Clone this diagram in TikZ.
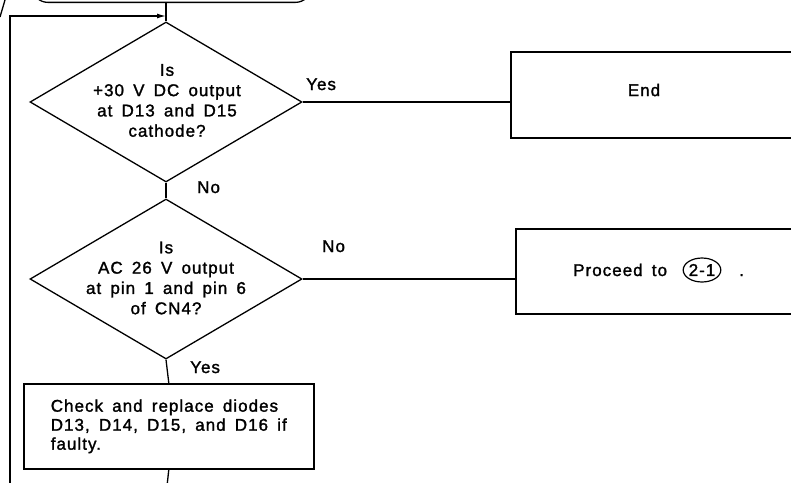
\documentclass[tikz,border=0pt]{standalone}
\usepackage{fontspec}
\setmainfont{Liberation Sans}[LetterSpace=6,FakeBold=1.5,WordSpace=1.6]
\usetikzlibrary{shapes.geometric,arrows.meta}
\begin{document}
\begin{tikzpicture}[x=1pt,y=-1pt,
  ln/.style={line width=1.3pt},
  dia/.style={diamond, draw, line width=1.3pt, minimum width=272pt, minimum height=160pt, inner sep=0pt},
  box/.style={rectangle, draw, line width=1.6pt, inner sep=0pt},
  txt/.style={font=\fontsize{17}{20.3}\selectfont, align=center, inner sep=0pt},
  lbl/.style={font=\fontsize{17}{18}\selectfont, inner sep=0pt, anchor=base west},
  term/.style={draw, rounded corners=15pt, line width=1.3pt, inner sep=0pt}
]
\useasboundingbox (0,0) rectangle (791,482);
\clip (0,0) rectangle (791,482);
% start terminator (cut off at top)
\node[term, minimum width=278pt, minimum height=60pt, anchor=south west] (start) at (32,3) {};
\draw[ln] (0,17) -- (5,0);
% decisions
\node[dia] (d1) at (166,102) {};
\node[txt] (d1t) at (167,100.5) {Is\\+30 V DC output\\at D13 and D15\\cathode?};
\node[dia] (d2) at (166,279) {};
\node[txt] (d2t) at (166,278) {Is\\AC 26 V output\\at pin 1 and pin 6\\of CN4?};
% boxes
\node[box, anchor=north west, minimum width=300pt, minimum height=86pt] (endb) at (510,51) {};
\node[txt] (endt) at (644,90) {End};
\node[box, anchor=north west, minimum width=300pt, minimum height=85pt] (procb) at (515,228) {};
\node[lbl] (proct) at (573,276) {Proceed to};
\node[ellipse, draw, line width=1.2pt, minimum width=33pt, minimum height=24pt, inner sep=0pt, font=\fontsize{17}{18}\selectfont] (e21) at (702,270) {2-1};
\node[lbl] (dot) at (739,276) {.};
\node[box, anchor=north west, minimum width=290pt, minimum height=85pt, align=left, font=\fontsize{17}{19}\selectfont] (chk) at (23,383) {Check and replace diodes\\D13, D14, D15, and D16 if\\faulty.};
% coordinates
\coordinate (lb) at (10,495);
\coordinate (lt) at (10,16);
\coordinate (bot) at (166,495);
% connectors
\draw[ln] (d1.north |- start.south) -- (d1.north);
\draw[ln, -{Latex[length=9pt,width=5pt]}] (lb) -- (lt) -- (lt -| d1.north);
\draw[ln] (d1.south) -- (d2.north);
\draw[ln] (d1.east) -- (d1.east -| endb.west);
\draw[ln] (d2.east) -- (d2.east -| procb.west);
\draw[ln] (d2.south) -- (chk.north);
\draw[ln] (chk.south) -- (bot);
% branch labels
\node[lbl] (yes1) at (306,90) {Yes};
\node[lbl] (no1) at (197,193) {No};
\node[lbl] (no2) at (322,252) {No};
\node[lbl] (yes2) at (190,373) {Yes};
\end{tikzpicture}
\end{document}
